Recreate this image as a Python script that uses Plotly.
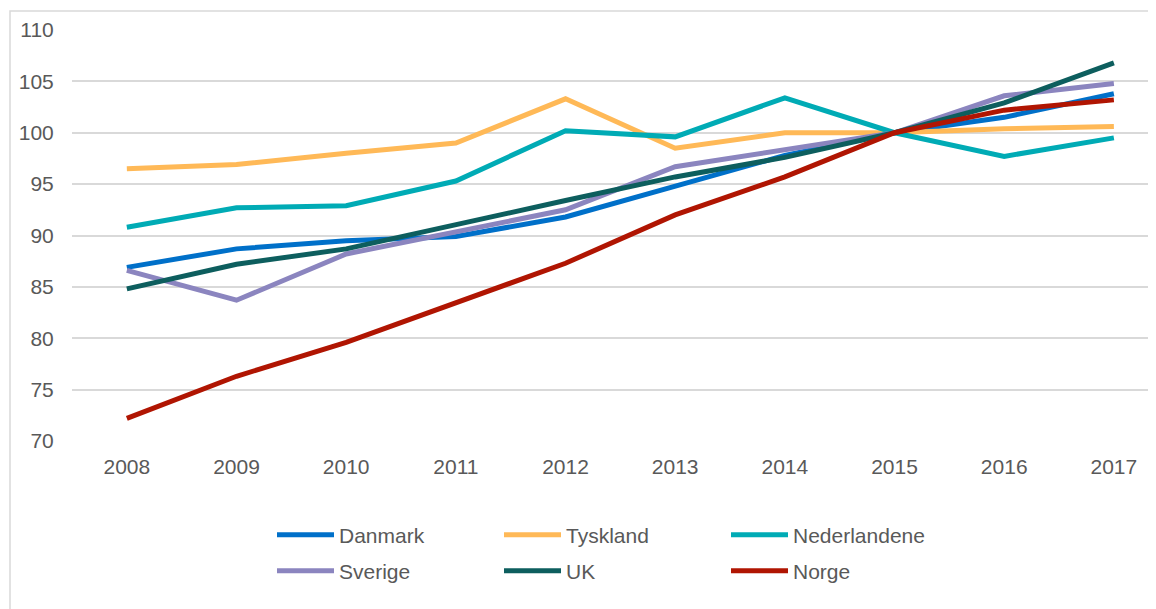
import plotly.graph_objects as go

years = ["2008", "2009", "2010", "2011", "2012", "2013", "2014", "2015", "2016", "2017"]
danmark = [86.9, 88.7, 89.5, 89.9, 91.8, 94.8, 97.8, 100.0, 101.5, 103.8]
tyskland = [96.5, 96.9, 98.0, 99.0, 103.3, 98.5, 100.0, 100.0, 100.4, 100.6]
nederlandene = [90.8, 92.7, 92.9, 95.3, 100.2, 99.6, 103.4, 100.0, 97.7, 99.5]
sverige = [86.6, 83.7, 88.2, 90.4, 92.5, 96.7, 98.4, 100.0, 103.6, 104.8]
uk = [84.8, 87.2, 88.7, 91.1, 93.4, 95.7, 97.6, 100.0, 102.9, 106.8]
norge = [72.2, 76.3, 79.6, 83.4, 87.3, 92.0, 95.7, 100.0, 102.2, 103.2]

series = [
    ("Danmark", danmark, "#0070C9", "legend"),
    ("Tyskland", tyskland, "#FFB957", "legend"),
    ("Nederlandene", nederlandene, "#00ABB5", "legend"),
    ("Sverige", sverige, "#8B85BF", "legend2"),
    ("UK", uk, "#0D5E5E", "legend2"),
    ("Norge", norge, "#B01502", "legend2"),
]

fig = go.Figure()
for name, vals, color, lg in series:
    fig.add_trace(go.Scatter(
        x=list(range(len(years))), y=vals, name=name, mode="lines",
        line=dict(color=color, width=5), legend=lg,
    ))

font = dict(family="Liberation Sans, Arial, sans-serif", size=21, color="#595959")
# page is offset by the 8px body margin
W, H = 1148, 601
L, T, B = 64, 22, 168
pw = W - L
ph = H - T - B
base = T + ph  # y pixel of plot bottom

lx = (264 - L) / pw

fig.update_layout(
    width=W, height=H,
    margin=dict(l=L, r=0, t=T, b=B),
    paper_bgcolor="white", plot_bgcolor="white",
    font=font,
    xaxis=dict(
        range=[-0.5, -0.5 + pw / 109.67],
        tickmode="array", tickvals=list(range(len(years))), ticktext=years,
        showgrid=False, zeroline=False, showline=False,
        ticks="outside", ticklen=7, tickcolor="rgba(0,0,0,0)",
    ),
    yaxis=dict(
        range=[70, 110], dtick=5, showgrid=True, gridcolor="#D9D9D9", gridwidth=1.5,
        zeroline=False, showline=False,
        ticks="outside", ticklen=13, tickcolor="rgba(0,0,0,0)",
    ),
    legend=dict(
        orientation="h", x=lx, y=(base - 527) / ph,
        xanchor="left", yanchor="middle", entrywidth=155, entrywidthmode="pixels",
        itemwidth=57, font=font, bgcolor="rgba(0,0,0,0)",
    ),
    legend2=dict(
        orientation="h", x=lx, y=(base - 563) / ph,
        xanchor="left", yanchor="middle", entrywidth=155, entrywidthmode="pixels",
        itemwidth=57, font=font, bgcolor="rgba(0,0,0,0)",
    ),
    showlegend=True,
)

fig.add_shape(
    type="rect", xref="paper", yref="paper",
    x0=(2 - L) / pw, x1=1.2, y0=-1.0, y1=(base - 3) / ph,
    line=dict(color="#D9D9D9", width=1.5), fillcolor="rgba(0,0,0,0)", layer="below",
)

fig.write_html("out.html")
